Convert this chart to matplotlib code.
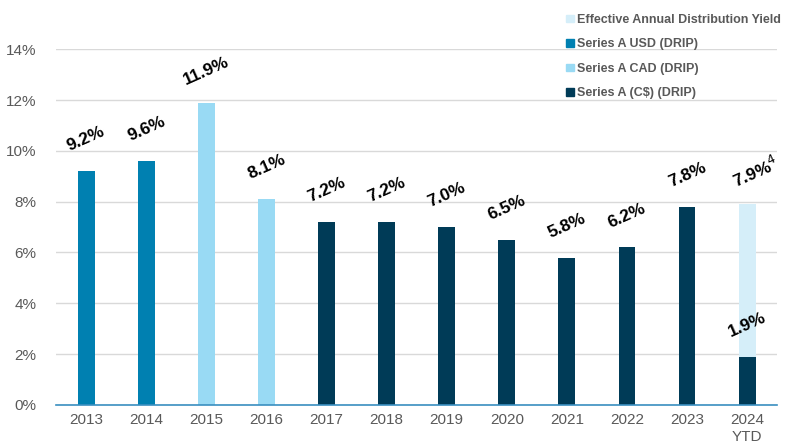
import matplotlib
matplotlib.use("Agg")
import matplotlib.pyplot as plt
from matplotlib.patches import Patch

plt.rcParams['font.family'] = ['Liberation Sans', 'DejaVu Sans']

categories = ['2013', '2014', '2015', '2016', '2017', '2018', '2019', '2020',
              '2021', '2022', '2023', '2024\nYTD']
series_usd = [9.2, 9.6, 0, 0, 0, 0, 0, 0, 0, 0, 0, 0]
series_cad = [0, 0, 11.9, 8.1, 0, 0, 0, 0, 0, 0, 0, 0]
series_cs = [0, 0, 0, 0, 7.2, 7.2, 7.0, 6.5, 5.8, 6.2, 7.8, 1.9]
effective_total = [0, 0, 0, 0, 0, 0, 0, 0, 0, 0, 0, 7.9]
labels = ['9.2%', '9.6%', '11.9%', '8.1%', '7.2%', '7.2%', '7.0%', '6.5%',
          '5.8%', '6.2%', '7.8%', r'7.9%$^{4}$']
label_tops = [9.2, 9.6, 11.9, 8.1, 7.2, 7.2, 7.0, 6.5, 5.8, 6.2, 7.8, 7.9]

c_usd = '#0080B1'
c_cad = '#99DAF4'
c_cs = '#003B57'
c_eff = '#D5EEF9'

fig = plt.figure(figsize=(7.96, 4.47), dpi=100)
ax = fig.add_axes([0.0704, 0.094, 0.906, 0.796])

x = list(range(len(categories)))
w = 0.28
ax.bar(x, series_usd, width=w, color=c_usd, zorder=3)
ax.bar(x, series_cad, width=w, color=c_cad, zorder=3)
ax.bar(x, series_cs, width=w, color=c_cs, zorder=3)
eff_top = [max(t - b, 0) for t, b in zip(effective_total, series_cs)]
ax.bar(x, eff_top, bottom=series_cs, width=w, color=c_eff, zorder=3)

for i, (lab, top) in enumerate(zip(labels, label_tops)):
    dx = 6 if i == 11 else 0
    ax.annotate(lab, (i, top), xytext=(dx, 23), textcoords='offset points',
                ha='center', va='center', rotation=24, fontsize=12.5,
                fontweight='bold', color='black')
ax.annotate('1.9%', (11, 1.9), xytext=(0, 23), textcoords='offset points',
            ha='center', va='center', rotation=24, fontsize=12.5,
            fontweight='bold', color='black')

ax.set_ylim(0, 14)
ax.set_xlim(-0.5, 11.5)
ax.set_yticks([0, 2, 4, 6, 8, 10, 12, 14])
ax.set_yticklabels([f'{v}%' for v in [0, 2, 4, 6, 8, 10, 12, 14]])
ax.set_xticks(x)
ax.set_xticklabels(categories)
ax.tick_params(axis='both', length=0, labelsize=11, colors='#595959')
ax.tick_params(axis='y', pad=14)
ax.tick_params(axis='x', pad=6)
ax.yaxis.grid(True, color='#D9D9D9', linewidth=1, zorder=0)
for s in ['top', 'right', 'left']:
    ax.spines[s].set_visible(False)
ax.spines['bottom'].set_color('#3A8FC0')
ax.spines['bottom'].set_linewidth(1.2)
ax.spines['bottom'].set_zorder(4)

handles = [Patch(color=c_eff), Patch(color=c_usd), Patch(color=c_cad), Patch(color=c_cs)]
names = ['Effective Annual Distribution Yield', 'Series A USD (DRIP)',
         'Series A CAD (DRIP)', 'Series A (C$) (DRIP)']
leg = fig.legend(handles, names, loc='upper left', bbox_to_anchor=(0.697, 0.994),
                 frameon=False, handlelength=0.6, handleheight=0.6,
                 handletextpad=0.3, labelspacing=1.0, fontsize=9.0)
for t in leg.get_texts():
    t.set_color('#595959')
    t.set_fontweight('bold')

fig.savefig('out.png', dpi=100)
